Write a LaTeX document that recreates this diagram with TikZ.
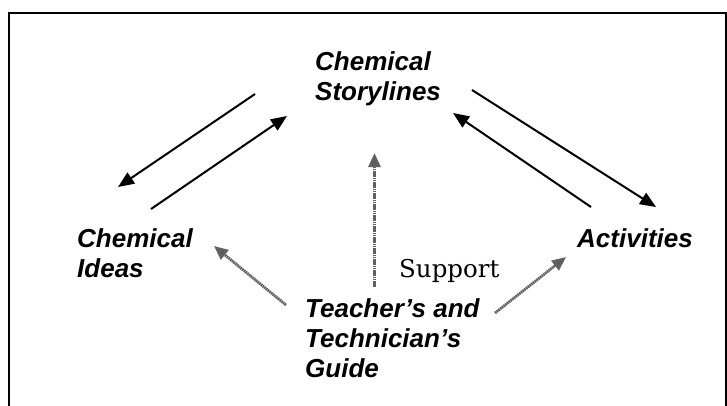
\documentclass[tikz,border=0pt]{standalone}
\usepackage{fontspec}
\setmainfont{Liberation Sans}
\newfontfamily\supfont{DejaVu Serif}
\usetikzlibrary{arrows.meta}
\begin{document}
\begin{tikzpicture}[x=1pt,y=-1pt,
  lbl/.style={inner sep=0pt,anchor=base west,align=left,
    font=\fontsize{26}{30}\selectfont\bfseries\itshape},
  blk/.style={line width=2pt,-{Triangle[length=16pt,width=13pt]}},
  gry/.style={draw=black!62,line width=2.8pt,dash pattern=on 1.6pt off 0.6pt,
    -{Triangle[length=14pt,width=12pt,fill=black!65]}}]
\useasboundingbox (0,0) rectangle (727,405);
\draw[line width=2pt] (9,406) -- (9,13) -- (726,13) -- (726,406);
\node[lbl] (story) at (315,100) {Chemical\\Storylines};
\node[lbl] (ideas) at (77,277) {Chemical\\Ideas};
\node[lbl] (act) at (577,247) {Activities};
\node[inner sep=0pt,anchor=base west,font=\fontsize{24.5}{28}\supfont] (sup) at (399,277) {Support};
\node[lbl] (guide) at (305,377) {Teacher’s and\\Technician’s\\Guide};
\coordinate (a1s) at (255,94);  \coordinate (a1e) at (118,187);
\coordinate (a2s) at (151,209); \coordinate (a2e) at (287,116);
\coordinate (a3s) at (472,90);  \coordinate (a3e) at (656,207);
\coordinate (a4s) at (591,207); \coordinate (a4e) at (453,113);
\coordinate (g1s) at (374.5,287); \coordinate (g1e) at (374.5,153);
\coordinate (g2s) at (286,305); \coordinate (g2e) at (214,246);
\coordinate (g3s) at (495,313); \coordinate (g3e) at (566,257);
\draw[blk] (a1s) -- (a1e);
\draw[blk] (a2s) -- (a2e);
\draw[blk] (a3s) -- (a3e);
\draw[blk] (a4s) -- (a4e);
\draw[gry] (g1s) -- (g1e);
\draw[gry] (g2s) -- (g2e);
\draw[gry] (g3s) -- (g3e);
\end{tikzpicture}
\end{document}
